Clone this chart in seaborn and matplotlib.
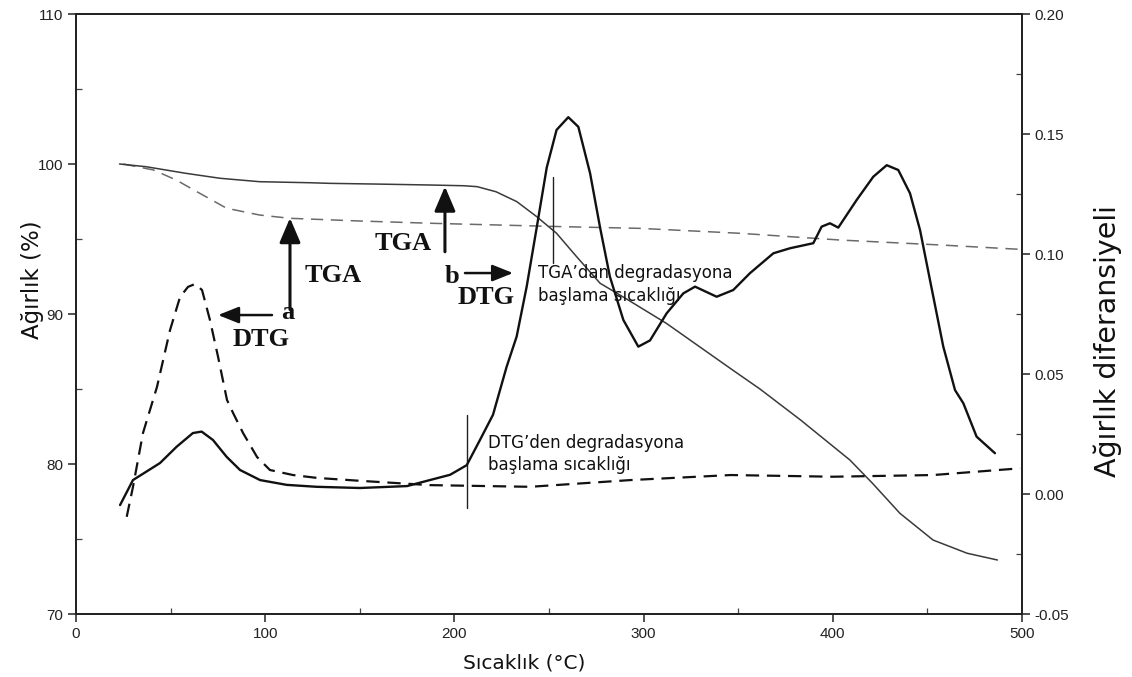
import matplotlib
matplotlib.use("Agg")
import matplotlib.pyplot as plt
import seaborn as sns
from matplotlib.ticker import MultipleLocator, FormatStrFormatter

# --- TGA curves (left axis, weight %) ---
temp_tga_a = [25, 41, 53, 65.5, 79.6, 97, 113, 150, 187, 258, 298, 351, 404, 457, 499]
tga_a = [100.0, 99.6, 98.93, 98.04, 97.05, 96.6, 96.38, 96.2, 96.05, 95.82, 95.71,
         95.38, 94.93, 94.6, 94.31]

temp_tga_b = [23, 37, 58, 76, 97, 124, 134, 160, 187, 205, 212, 222, 233, 243.5, 254,
              264.6, 277, 291, 312, 347, 361.5, 383, 409, 421, 435.5, 453, 471, 487]
tga_b = [100.0, 99.82, 99.38, 99.05, 98.82, 98.75, 98.71, 98.66, 98.6, 98.55, 98.49,
         98.15, 97.49, 96.49, 95.38, 93.82, 92.05, 91.0, 89.38, 86.27, 85.0, 82.93,
         80.27, 78.71, 76.71, 74.93, 74.05, 73.6]

# --- DTG curves (right axis, derivative weight) ---
temp_dtg_a = [26.8, 30.1, 35.4, 42.8, 49.7, 55, 59.2, 62.9, 66.6, 70.8, 75.1, 79.8, 83,
              88.3, 95.7, 102.5, 114.7, 127.4, 150, 187, 240, 293, 346, 400, 453, 499]
dtg_a = [-0.0095, 0.0029, 0.0254, 0.0446, 0.0683, 0.0821, 0.0863, 0.0875, 0.085,
         0.0725, 0.0571, 0.0392, 0.0338, 0.0254, 0.0154, 0.010, 0.0079, 0.0067,
         0.0055, 0.0037, 0.003, 0.0058, 0.0079, 0.0072, 0.0079, 0.0107]

temp_dtg_b = [23.3, 30.1, 44.4, 53.2, 61.8, 66.4, 72.4, 79.6, 86.7, 97.3, 111.4, 127.2,
              150, 175, 187, 197.7, 206.5, 213.5, 220.4, 227.6, 232.9, 238.2, 243.5,
              248.8, 254, 260.2, 265.5, 271.7, 277, 282.2, 289.3, 297.2, 303.4, 312.2,
              321, 327.2, 338.6, 347.4, 356.2, 368.6, 377.4, 389.7, 394.1, 398.5,
              402.9, 412.6, 421.4, 428.5, 434.6, 440.8, 446.1, 451.4, 458.4, 464.6,
              469, 476, 485.7]
dtg_b = [-0.0046, 0.0058, 0.0129, 0.0197, 0.0254, 0.026, 0.0225, 0.0155, 0.010, 0.0058,
         0.0038, 0.003, 0.0025, 0.0033, 0.0058, 0.008, 0.012, 0.0225, 0.033, 0.053,
         0.0656, 0.0864, 0.111, 0.136, 0.1517, 0.157, 0.153, 0.1337, 0.111, 0.0905,
         0.0725, 0.0614, 0.064, 0.0753, 0.0836, 0.0864, 0.0822, 0.085, 0.092, 0.1003,
         0.1024, 0.1045, 0.1114, 0.1128, 0.111, 0.1225, 0.1322, 0.137, 0.135, 0.1253,
         0.11, 0.089, 0.0614, 0.0433, 0.0378, 0.0239, 0.017]

x_ticks = [0, 100, 200, 300, 400, 500]
left_ticks = [70, 80, 90, 100, 110]
right_ticks = [-0.05, 0.00, 0.05, 0.10, 0.15, 0.20]

sns.set_style("ticks")
plt.rcParams["font.family"] = ["DejaVu Sans"]

fig = plt.figure(figsize=(11.32, 6.77), dpi=100)
ax = fig.add_axes([76 / 1132, 63 / 677, 946 / 1132, 600 / 677])
ax2 = ax.twinx()

line_kw = dict(estimator=None, sort=False, legend=False)
sns.lineplot(x=temp_tga_a, y=tga_a, ax=ax, color="#6a6a6a", lw=1.1,
             linestyle=(0, (8, 5)), **line_kw)
sns.lineplot(x=temp_tga_b, y=tga_b, ax=ax, color="#3a3a3a", lw=1.1, **line_kw)
sns.lineplot(x=temp_dtg_a, y=dtg_a, ax=ax2, color="#111111", lw=1.6,
             linestyle=(0, (6, 3.5)), **line_kw)
sns.lineplot(x=temp_dtg_b, y=dtg_b, ax=ax2, color="#111111", lw=1.7, **line_kw)

ax.set_xlim(0, 500)
ax.set_ylim(70, 110)
ax2.set_ylim(-0.05, 0.20)
ax.set_xticks(x_ticks)
ax.set_yticks(left_ticks)
ax2.set_yticks(right_ticks)
ax.xaxis.set_minor_locator(MultipleLocator(50))
ax.yaxis.set_minor_locator(MultipleLocator(5))
ax2.yaxis.set_minor_locator(MultipleLocator(0.025))
ax2.yaxis.set_major_formatter(FormatStrFormatter("%.2f"))

for a in (ax, ax2):
    a.tick_params(which="major", direction="out", length=6, width=1.1,
                  colors="#222222", labelsize=11, pad=3)
    a.tick_params(which="minor", direction="in", length=4, width=0.9, color="#444444")
    for lab in a.get_xticklabels() + a.get_yticklabels():
        lab.set_fontfamily("Liberation Sans")
    for sp in a.spines.values():
        sp.set_visible(True)
        sp.set_linewidth(1.3)
        sp.set_color("#222222")

ax.set_xlabel("Sıcaklık (°C)", fontsize=14.5, color="#111111")
ax.set_ylabel("Ağırlık (%)", fontsize=16.5, color="#111111")
ax2.set_ylabel("Ağırlık diferansiyeli", fontsize=20.5, color="#111111")
ax.xaxis.set_label_coords(0.474, -0.066)
ax.yaxis.set_label_coords(-0.034, 0.557)
ax2.yaxis.set_label_coords(1.076, 0.455)

# --- annotations ---
bold = dict(family="Liberation Serif", weight="bold", size=19, color="#111111")
big_arrow = dict(arrowstyle="-|>,head_length=0.75,head_width=0.32", lw=2.2,
                 color="#111111", mutation_scale=20, shrinkA=0, shrinkB=0)
small_arrow = dict(arrowstyle="-|>,head_length=0.7,head_width=0.28", lw=1.8,
                   color="#111111", mutation_scale=18, shrinkA=0, shrinkB=0)

ax.annotate("", xy=(113.1, 96.4), xytext=(113.1, 90.3), arrowprops=big_arrow)
ax.text(121.0, 92.6, "TGA", ha="left", va="center", **bold)
ax.text(112.0, 90.1, "a", ha="center", va="center", **bold)
ax.annotate("", xy=(75.1, 89.93), xytext=(103.6, 89.93), arrowprops=small_arrow)
ax.text(83.0, 88.27, "DTG", ha="left", va="center", **bold)

ax.annotate("", xy=(195.0, 98.5), xytext=(195.0, 94.15), arrowprops=big_arrow)
ax.text(158.0, 94.73, "TGA", ha="left", va="center", **bold)
ax.text(198.6, 92.49, "b", ha="center", va="center", **bold)
ax.annotate("", xy=(231.0, 92.73), xytext=(205.6, 92.73), arrowprops=small_arrow)
ax.text(201.9, 91.07, "DTG", ha="left", va="center", **bold)

note_font = dict(family="DejaVu Sans", size=12, color="#111111")
ax.plot([252.3, 252.3], [99.13, 93.4], color="#222222", lw=1.0)
ax.text(244.2, 92.73, "TGA’dan degradasyona", ha="left", va="center", **note_font)
ax.text(244.2, 91.2, "başlama sıcaklığı", ha="left", va="center", **note_font)

ax.plot([206.5, 206.5], [83.27, 77.05], color="#222222", lw=1.0)
ax.text(217.9, 81.38, "DTG’den degradasyona", ha="left", va="center", **note_font)
ax.text(217.9, 79.93, "başlama sıcaklığı", ha="left", va="center", **note_font)

fig.savefig("out.png", dpi=100, facecolor="white")
